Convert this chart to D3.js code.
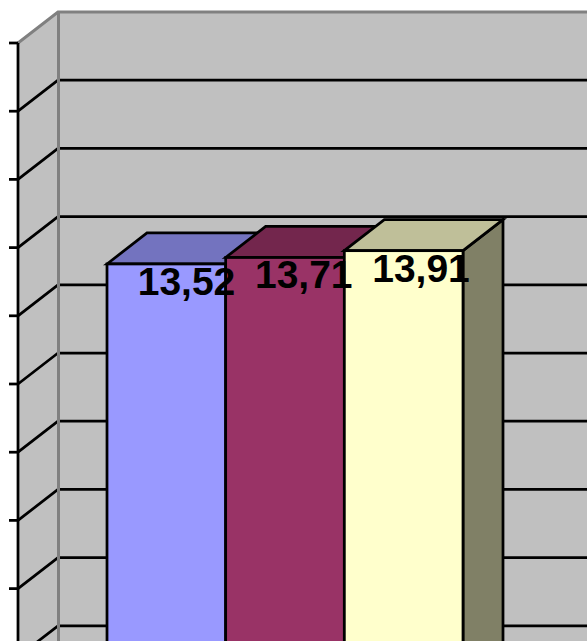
<!DOCTYPE html>
<html>
<head>
<meta charset="utf-8">
<script src="https://cdn.jsdelivr.net/npm/d3@7"></script>
<style>
html, body { margin: 0; padding: 0; background: #fff; overflow: hidden; }
svg { display: block; }
</style>
</head>
<body>
<script>
var series = ["Serie 1", "Serie 2", "Serie 3"];
var values = [13.52, 13.71, 13.91];
var colors = ["#9999FF", "#993366", "#FFFFCC"];
var ticks = [0, 2, 4, 6, 8, 10, 12, 14, 16, 18, 20];

var width = 587;
var height = 641;

// the picture is a crop: zero sits below the bottom edge
var y = d3.scaleLinear().domain([0, 20]).range([725, 43]);
var x = d3.scaleBand().domain(series).range([107, 463]);
var labelX = d3.scalePoint().domain(series).range([186.5, 421]);
var color = d3.scaleOrdinal().domain(series).range(colors);
var f = d3.formatLocale({ decimal: ",", thousands: " ", grouping: [3], currency: ["", ""] }).format(".2f");

// 3d depth of the chart box
var dx = 40;
var dy = -31;
var left = 18;

function shade(name, k) {
    var c = d3.rgb(color(name));
    return d3.rgb(c.r * k, c.g * k, c.b * k);
}

var svg = d3.select("body").append("svg")
    .attr("width", width)
    .attr("height", height);

// side wall and back wall
svg.append("polygon")
    .attr("points", [[left, y(20)], [left + dx, y(20) + dy], [left + dx, y(0) + dy], [left, y(0)]].join(" "))
    .attr("fill", "#C0C0C0");
svg.append("rect")
    .attr("x", left + dx)
    .attr("y", y(20) + dy)
    .attr("width", width + 10 - left - dx)
    .attr("height", y(0) - y(20))
    .attr("fill", "#C0C0C0");

// gridlines, the top one is the grey edge of the walls
var grid = svg.append("g");
grid.selectAll("path")
    .data(ticks)
    .enter().append("path")
    .attr("d", function(d) {
        return "M" + left + "," + y(d) + "L" + (left + dx) + "," + (y(d) + dy) + "H" + (width + 10);
    })
    .attr("fill", "none")
    .attr("stroke", function(d) { return d === 20 ? "#808080" : "#000"; })
    .attr("stroke-width", function(d) { return d === 20 ? 3 : 2.75; });

svg.append("line")
    .attr("x1", left + dx + 0.5).attr("x2", left + dx + 0.5)
    .attr("y1", y(20) + dy).attr("y2", y(0) + dy)
    .attr("stroke", "#808080")
    .attr("stroke-width", 3);

var axis = d3.axisLeft(y)
    .tickValues(ticks)
    .tickSize(9)
    .tickSizeOuter(0)
    .tickPadding(0)
    .offset(0)
    .tickFormat("");

var axisG = svg.append("g")
    .attr("transform", "translate(" + left + ",0)")
    .call(axis);
axisG.selectAll("path, line")
    .attr("stroke", "#000")
    .attr("stroke-width", 2.75);

// bars
var bars = svg.selectAll(".bar")
    .data(values)
    .enter().append("g")
    .attr("class", "bar");

bars.append("polygon")
    .attr("points", function(d, i) {
        var x0 = x(series[i]) + x.bandwidth();
        return [[x0, y(d)], [x0 + dx, y(d) + dy], [x0 + dx, y(0) + dy], [x0, y(0)]].join(" ");
    })
    .attr("fill", function(d, i) { return shade(series[i], 0.5); });

bars.append("polygon")
    .attr("points", function(d, i) {
        var x0 = x(series[i]);
        var x1 = x0 + x.bandwidth();
        return [[x0, y(d)], [x0 + dx, y(d) + dy], [x1 + dx, y(d) + dy], [x1, y(d)]].join(" ");
    })
    .attr("fill", function(d, i) { return shade(series[i], 0.75); });

bars.append("rect")
    .attr("x", function(d, i) { return x(series[i]); })
    .attr("y", function(d) { return y(d); })
    .attr("width", x.bandwidth())
    .attr("height", function(d) { return y(0) - y(d); })
    .attr("fill", function(d, i) { return color(series[i]); });

bars.selectAll("polygon, rect")
    .attr("stroke", "#000")
    .attr("stroke-width", 2.75)
    .attr("stroke-linejoin", "miter");

// value labels
svg.selectAll(".label")
    .data(values)
    .enter().append("text")
    .attr("class", "label")
    .attr("x", function(d, i) { return labelX(series[i]); })
    .attr("y", function(d) { return y(d) + 31; })
    .attr("text-anchor", "middle")
    .attr("font-family", "'Liberation Sans', Arial, sans-serif")
    .attr("font-weight", "bold")
    .attr("font-size", 39)
    .attr("fill", "#000")
    .text(function(d) { return f(d); });
</script>
</body>
</html>
